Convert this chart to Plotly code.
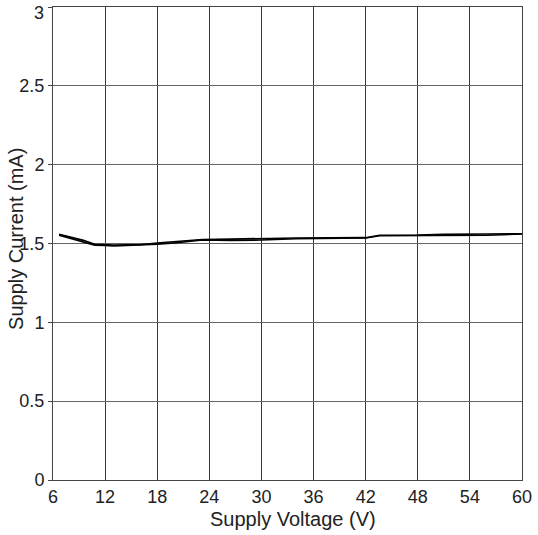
import plotly.graph_objects as go

# Supply voltage (V) and supply current (mA)
volt_a = [6.7, 8.0, 9.5, 10.8, 12.0, 13.0, 14.5, 16.0, 18.0, 20.0, 22.0, 23.2, 26.5, 30.0, 34.0, 42.0, 43.6, 48.0, 51.0, 56.0, 60.0]
curr_a = [1.558, 1.540, 1.520, 1.495, 1.492, 1.490, 1.492, 1.492, 1.503, 1.512, 1.518, 1.525, 1.528, 1.533, 1.535, 1.537, 1.552, 1.553, 1.558, 1.560, 1.562]
volt_b = [6.7, 8.0, 9.5, 10.8, 12.0, 13.0, 14.5, 16.0, 18.0, 20.0, 22.0, 23.2, 26.5, 30.0, 34.0, 42.0, 43.6, 48.0, 51.0, 56.0, 60.0]
curr_b = [1.552, 1.532, 1.508, 1.490, 1.488, 1.484, 1.488, 1.490, 1.496, 1.504, 1.514, 1.522, 1.520, 1.522, 1.530, 1.535, 1.549, 1.550, 1.548, 1.552, 1.560]

x_ticks = [6, 12, 18, 24, 30, 36, 42, 48, 54, 60]
y_ticks = [0, 0.5, 1, 1.5, 2, 2.5, 3]
y_tick_labels = ["0", "0.5", "1", "1.5", "2", "2.5", ""]
y_top_label = "3"

W, H = 538, 535
L, R, T, B = 53, 11, 6, 55

fig = go.Figure()
fig.add_trace(go.Scatter(x=volt_a, y=curr_a, mode="lines",
                         line=dict(color="black", width=1.6), showlegend=False))
fig.add_trace(go.Scatter(x=volt_b, y=curr_b, mode="lines",
                         line=dict(color="black", width=1.6), showlegend=False))

tick_font = dict(family="Liberation Sans, Arial, sans-serif", size=18, color="#222")
title_font = dict(family="Liberation Sans, Arial, sans-serif", size=20, color="#222")

pw, ph = W - L - R, H - T - B


def px(x):
    return (x - L) / pw


def py(y):
    return (H - B - y) / ph


fig.update_layout(
    width=W, height=H,
    margin=dict(l=L, r=R, t=T, b=B),
    paper_bgcolor="white", plot_bgcolor="white",
    font=tick_font,
    xaxis=dict(range=[6, 60], tickvals=x_ticks, showgrid=True, gridcolor="#3a3a3a",
               gridwidth=1, showline=True, linecolor="#444", mirror=True,
               zeroline=False, ticks="", ticklen=0, tickfont=tick_font,
               ticklabeloverflow="allow"),
    yaxis=dict(range=[0, 3], tickvals=y_ticks, ticktext=y_tick_labels, showgrid=True,
               gridcolor="#666", gridwidth=1, showline=True, linecolor="#444",
               mirror=True, zeroline=False, ticks="outside", ticklen=4,
               tickcolor="#444", tickfont=tick_font, ticklabeloverflow="allow"),
    annotations=[
        dict(text=y_top_label, x=px(46), y=py(12), xref="paper", yref="paper",
             xanchor="right", yanchor="middle", showarrow=False, font=tick_font),
        dict(text="Supply Voltage (V)", x=px(296), y=py(519), xref="paper", yref="paper",
             xanchor="center", yanchor="middle", showarrow=False, font=title_font),
        dict(text="Supply Current (mA)", x=px(15), y=py(238), xref="paper", yref="paper",
             xanchor="center", yanchor="middle", showarrow=False, font=title_font,
             textangle=-90),
    ],
)

fig.write_html("out.html", config={"displayModeBar": False},
               post_script="document.body.style.margin='0';")
